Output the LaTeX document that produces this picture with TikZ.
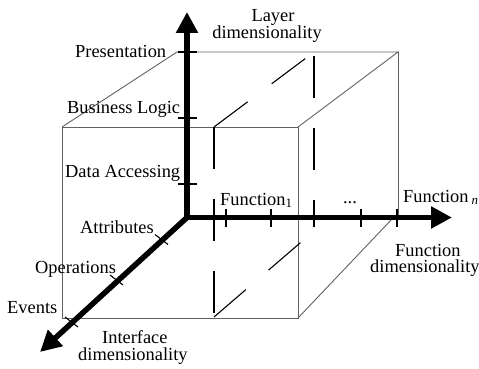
\documentclass[tikz,border=0pt]{standalone}
\usepackage{fontspec}
\setmainfont{Liberation Serif}
\usetikzlibrary{arrows.meta}
\begin{document}
\begin{tikzpicture}[x=1pt,y=-1pt,
  edge/.style={draw=black!62, line width=0.9pt},
  hidden/.style={draw=black, line width=1.1pt, dash pattern=on 42pt off 30pt},
  axis/.style={line width=5.5pt, line join=miter, >={Triangle[length=21pt,width=21pt]}},
  tickmark/.style={draw=black, line width=1.1pt},
  lbl/.style={inner sep=0pt, font=\fontsize{18.4}{17}\selectfont}]
\useasboundingbox (0,0) rectangle (479,369);
% cube corners
\coordinate (ftl) at (62,127);
\coordinate (ftr) at (298,127);
\coordinate (fbl) at (62,318);
\coordinate (fbr) at (298,318);
\coordinate (btl) at (177,52);
\coordinate (btr) at (398,52);
\coordinate (bbr) at (398,217.5);
\coordinate (bbd) at (392,219);
% hidden middle section
\coordinate (mtl) at (214,127);
\coordinate (mbl) at (214,317);
\coordinate (mtr) at (314,52);
\coordinate (mvt) at (314,56);
\coordinate (mvb) at (314,217.5);
\coordinate (mbr) at (314,231);
% axes
\coordinate (o) at (187,217.5);
\coordinate (ytip) at (187,12);
\coordinate (xtip) at (452,217.5);
\coordinate (ztip) at (40,352);
% cube
\draw[edge] (ftl) rectangle (fbr);
\draw[edge] (ftl) -- (btl) -- (btr) -- (ftr);
\draw[edge] (btr) -- (bbr);
\draw[edge] (fbr) -- (bbd);
% hidden lines
\draw[hidden] (mtl) -- (mbl);
\draw[hidden] (mtl) -- (mtr);
\draw[hidden] (mvt) -- (mvb);
\draw[hidden] (mbl) -- (mbr);
% axes
\draw[axis, <->] (ytip) -- (o) -- (xtip);
\draw[axis, ->] (o) -- (ztip);
% ticks on layer axis
\foreach \y in {52,118,184} \draw[tickmark] (178,\y) -- (197,\y);
% ticks on function axis
\foreach \x in {226,271,314,361,397} \draw[tickmark] (\x,208.5) -- (\x,227);
% ticks on interface axis
\coordinate (ta) at (161.5,239.5);
\coordinate (tb) at (116.5,280);
\coordinate (tc) at (71.5,322);
\foreach \c in {ta,tb,tc} \draw[tickmark] (\c) ++(-6.5,-5) -- ++(13,10);
% labels
\node[lbl, anchor=base] (lay1) at (273,22) {Layer};
\node[lbl, anchor=base] (lay2) at (267,39) {dimensionality};
\node[lbl, anchor=base west] (pres) at (75,58) {Presentation};
\node[lbl, anchor=base west] (bus) at (67,113) {Business Logic};
\node[lbl, anchor=base west] (data) at (65,177) {Data Accessing};
\node[lbl, anchor=base west] (f1) at (220,205) {Function\textsubscript{1}};
\node[lbl, anchor=base] (dots) at (350,203) {...};
\node[lbl, anchor=base west] (fn) at (403,202) {Function\,\textsubscript{\textit{n}}};
\node[lbl, anchor=base west] (fd1) at (395,256.5) {Function};
\node[lbl, anchor=base west] (fd2) at (370,272) {dimensionality};
\node[lbl, anchor=base west] (attr) at (80,233) {Attributes};
\node[lbl, anchor=base west] (oper) at (35,273) {Operations};
\node[lbl, anchor=base west] (evts) at (7,313) {Events};
\node[lbl, anchor=base west] (if1) at (102,343) {Interface};
\node[lbl, anchor=base west] (if2) at (78,360) {dimensionality};
\end{tikzpicture}
\end{document}
